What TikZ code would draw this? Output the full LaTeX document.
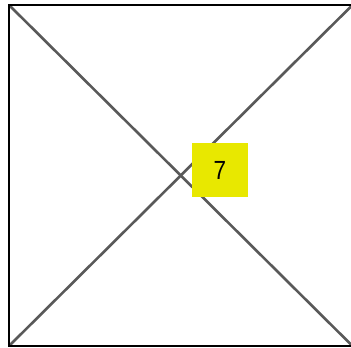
\documentclass[tikz,border=0pt]{standalone}
\usepackage{fontspec}
\setmainfont{Liberation Sans}
\definecolor{boxyellow}{RGB}{232,232,0}
\begin{document}
\begin{tikzpicture}[x=1pt,y=1pt,
  frame/.style={draw=black,line width=2.8pt},
  diag/.style={draw=black!65,line width=2.6pt},
  label/.style={fill=boxyellow,minimum width=56pt,minimum height=54pt,inner sep=0pt,font=\fontsize{25}{25}\selectfont}]
\useasboundingbox (0,0) rectangle (351,348);
\coordinate (tl) at (9,343);
\coordinate (tr) at (352.5,343);
\coordinate (bl) at (9,2);
\coordinate (br) at (352.5,2);
\draw[diag] (tl) -- (br);
\draw[diag] (bl) -- (tr);
\draw[frame] (bl) rectangle (tr);
\node[label] (seven) at (220,178) {\scalebox{0.9}[1.05]{7}};
\end{tikzpicture}
\end{document}
